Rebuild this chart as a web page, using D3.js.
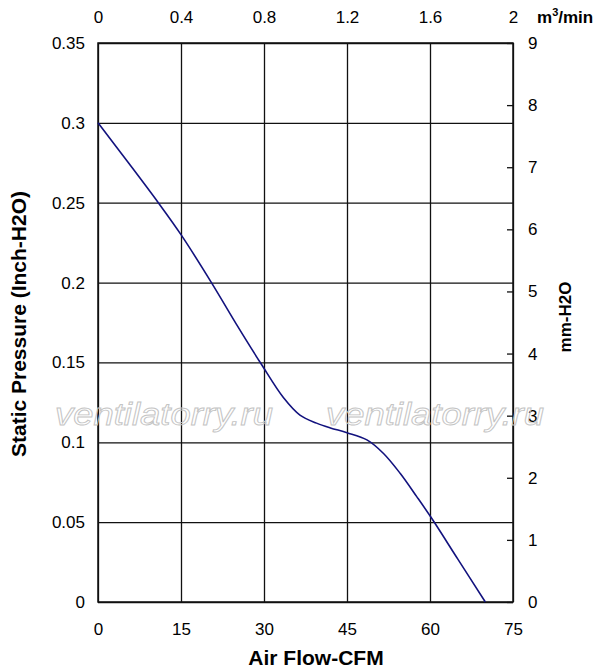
<!DOCTYPE html>
<html>
<head>
<meta charset="utf-8">
<script src="https://cdn.jsdelivr.net/npm/d3@7"></script>
<style>
  html, body { margin: 0; padding: 0; background: #fff; }
  svg { display: block; font-family: "Liberation Sans", Arial, sans-serif; }
</style>
</head>
<body>
<svg id="chart" width="600" height="670"></svg>
<script>
// ---- data ----
const airflowCFM = [0, 5.5, 10.9, 15, 20.5, 25, 29.5, 33.5, 36.5, 39.5, 42, 45, 48.6, 51.6, 54.6, 57.6, 60.3, 65, 70];
const pressureInH2O = [0.300, 0.275, 0.250, 0.230, 0.200, 0.174, 0.149, 0.128, 0.117, 0.112, 0.109, 0.106, 0.1015, 0.093, 0.0806, 0.066, 0.0524, 0.027, 0];
const cfmTicks = [0, 15, 30, 45, 60, 75];
const m3Ticks = [0, 0.4, 0.8, 1.2, 1.6, 2];
const inchTicks = [0, 0.05, 0.1, 0.15, 0.2, 0.25, 0.3, 0.35];
const mmTicks = [0, 1, 2, 3, 4, 5, 6, 7, 8, 9];
const watermarkText = "ventilatorry.ru";

// ---- layout ----
const svg = d3.select("#chart");
const mLeft = 98, mTop = 43, plotW = 415, plotH = 559;
const g = svg.append("g").attr("transform", `translate(${mLeft},${mTop})`);

const x = d3.scaleLinear().domain([0, 75]).range([0, plotW]);
const xTop = d3.scaleLinear().domain([0, 2]).range([0, plotW]);
const y = d3.scaleLinear().domain([0, 0.35]).range([plotH, 0]);
const yR = d3.scaleLinear().domain([0, 9]).range([plotH, 0]);
const fmt = d => String(+(+d).toFixed(2));

// watermarks
[[55, 425], [326, 425]].forEach(([wx, wy]) => {
  svg.append("text")
    .attr("x", wx).attr("y", wy)
    .attr("font-size", 31).attr("font-style", "italic")
    .attr("textLength", 218).attr("lengthAdjust", "spacingAndGlyphs")
    .attr("fill", "none").attr("stroke", "#c4c4c4").attr("stroke-width", 0.9)
    .text(watermarkText);
});

const gridStroke = "#111";

// bottom axis with vertical grid lines
const gx = g.append("g").attr("transform", `translate(0,${plotH})`)
  .call(d3.axisBottom(x).tickValues(cfmTicks).tickSize(-plotH).tickPadding(21).tickFormat(fmt));
gx.select(".domain").remove();
gx.selectAll("line").attr("stroke", gridStroke).attr("stroke-width", 1.3);
gx.selectAll("text").attr("font-size", 17).attr("fill", "#000");

// left axis with horizontal grid lines
const gy = g.append("g")
  .call(d3.axisLeft(y).tickValues(inchTicks).tickSize(-plotW).tickPadding(13).tickFormat(fmt));
gy.select(".domain").remove();
gy.selectAll("line").attr("stroke", gridStroke).attr("stroke-width", 1.3);
gy.selectAll("text").attr("font-size", 17).attr("fill", "#000");

// top axis (m3/min)
const gt = g.append("g")
  .call(d3.axisTop(xTop).tickValues(m3Ticks).tickSize(0).tickPadding(20).tickFormat(fmt));
gt.select(".domain").remove();
gt.selectAll("text").attr("font-size", 17).attr("fill", "#000");

// right axis (mm-H2O), inward ticks
const gr = g.append("g").attr("transform", `translate(${plotW},0)`)
  .call(d3.axisRight(yR).tickValues(mmTicks).tickSize(-6).tickPadding(15).tickFormat(d3.format("d")));
gr.select(".domain").remove();
gr.selectAll("line").attr("stroke", gridStroke).attr("stroke-width", 1.3);
gr.selectAll("text").attr("font-size", 17).attr("fill", "#000");

// remove default font-family set by d3 axes so the svg font applies
g.selectAll("g").attr("font-family", null);

// frame
g.append("rect").attr("x", 0).attr("y", 0).attr("width", plotW).attr("height", plotH)
  .attr("fill", "none").attr("stroke", gridStroke).attr("stroke-width", 1.5);

// curve
const line = d3.line()
  .x((d, i) => x(airflowCFM[i]))
  .y(d => y(d))
  .curve(d3.curveCatmullRom.alpha(0.5));
g.append("path").datum(pressureInH2O)
  .attr("d", line)
  .attr("fill", "none").attr("stroke", "#12127e").attr("stroke-width", 1.6);

// titles
svg.append("text")
  .attr("x", 316).attr("y", 665).attr("text-anchor", "middle")
  .attr("font-size", 21).attr("font-weight", "bold")
  .text("Air Flow-CFM");

svg.append("text")
  .attr("transform", "translate(26,324) rotate(-90)")
  .attr("text-anchor", "middle")
  .attr("font-size", 21).attr("font-weight", "bold")
  .text("Static Pressure (Inch-H2O)");

svg.append("text")
  .attr("transform", "translate(571,317) rotate(-90)")
  .attr("text-anchor", "middle")
  .attr("font-size", 17).attr("font-weight", "bold")
  .text("mm-H2O");

const unit = svg.append("text")
  .attr("x", 537).attr("y", 23)
  .attr("font-size", 17).attr("font-weight", "bold");
unit.append("tspan").text("m");
unit.append("tspan").attr("font-size", 11).attr("dy", -7).text("3");
unit.append("tspan").attr("dy", 7).text("/min");
</script>
</body>
</html>
